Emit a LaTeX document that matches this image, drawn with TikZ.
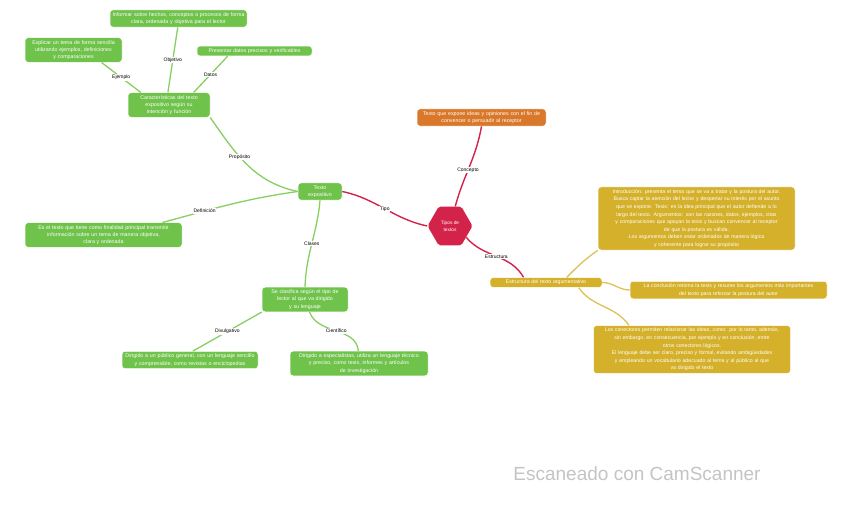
\documentclass[tikz,border=0pt]{standalone}
\usepackage{fontspec}
\setmainfont{Liberation Sans}
\usetikzlibrary{shapes.geometric, positioning}
\definecolor{mmgreen}{HTML}{6FC24A}
\definecolor{mmgreenln}{HTML}{86CF63}
\definecolor{mmred}{HTML}{D4234A}
\definecolor{mmorange}{HTML}{D9782A}
\definecolor{mmgold}{HTML}{D5B02A}
\definecolor{mmgoldln}{HTML}{DCC25A}
\definecolor{scangray}{HTML}{C4C4C4}

\tikzset{
  mapbox/.style={rounded corners=3pt, text=white, align=center, inner sep=2.5pt,
    draw=white, line width=0.5pt, font=\fontsize{5.3}{7.3}\selectfont},
  greenbox/.style={mapbox, fill=mmgreen},
  goldbox/.style={mapbox, fill=mmgold, font=\fontsize{5.2}{7.6}\selectfont},
  orangebox/.style={mapbox, fill=mmorange},
  linklabel/.style={fill=white, inner sep=0.8pt, text=black, font=\fontsize{5}{5.5}\selectfont},
  greenlink/.style={mmgreenln, line width=1.3pt},
  redlink/.style={mmred, line width=1.4pt},
  goldlink/.style={mmgoldln, line width=1.3pt}
}

\begin{document}
\begin{tikzpicture}[x=1pt, y=-1pt]

% Background
\fill[white] (0,0) rectangle (848,514);
\useasboundingbox (0,0) rectangle (848,514);

% === CENTRE: hexagon ===
\node[regular polygon, regular polygon sides=6, minimum size=45pt, inner sep=0pt,
  fill=mmred, rounded corners=2pt, text=white, align=center,
  font=\fontsize{4.8}{6.6}\selectfont] (tipos) at (450,226) {Tipos de\\ textos};

% === LEFT: green branch ===
\node[greenbox, text width=39pt] (expo) at (320,191.5) {Texto\\ expositivo};
\node[greenbox, text width=77pt] (caract) at (169,105)
  {Características del texto\\ expositivo según su\\ intención y función};
\node[greenbox, text width=92pt] (explicar) at (73.5,50)
  {Explicar un tema de forma sencilla\\ utilizando ejemplos, definiciones\\ y comparaciones};
\node[greenbox, text width=132pt] (informar) at (178.5,18.5)
  {Informar sobre hechos, conceptos o procesos de forma\\ clara, ordenada y objetiva para el lector};
\node[greenbox, text width=110pt] (precisar) at (254.5,51)
  {Presentar datos precisos y verificables};
\node[greenbox, text width=152pt] (defin) at (103.5,235)
  {Es el texto que tiene como finalidad principal transmitir\\ información sobre un tema de manera objetiva,\\ clara y ordenada};
\node[greenbox, text width=81pt] (clases) at (305,299.5)
  {Se clasifica según el tipo de\\ lector al que va dirigido\\ y su lenguaje};
\node[greenbox, text width=131pt] (divulg) at (190,360)
  {Dirigido a un público general, con un lenguaje sencillo\\ y comprensible, como revistas o enciclopedias};
\node[greenbox, text width=133pt] (cientif) at (359,363.5)
  {Dirigido a especialistas, utiliza un lenguaje técnico\\ y preciso, como tesis, informes y artículos\\ de investigación};

% green connectors
\draw[greenlink] (caract.156) -- node[linklabel] (lbejem) {Ejemplo} (explicar.-24);
\draw[greenlink] (caract.95) -- node[linklabel] (lbinfo) {Objetivo} (informar.-95);
\draw[greenlink] (caract.27) -- node[linklabel] (lbdato) {Datos} (precisar.191);
\draw[greenlink] (caract.south east) to[out=-55, in=168]
  node[linklabel, pos=0.4] (lbprop) {Propósito} (expo.west);
\draw[greenlink] (expo.west) to[out=188, in=15]
  node[linklabel, pos=0.7] (lbdef) {Definición} (defin.12);
\draw[greenlink] (expo.south) to[out=-95, in=88]
  node[linklabel] (lbclas) {Clases} (clases.north);
\draw[greenlink] (clases.south west) -- node[linklabel] (lbdiv) {Divulgativo} (divulg.72);
\draw[greenlink] (clases.-70) to[out=-70, in=95] node[linklabel] (lbcie) {Científico} (cientif.93);

% === RIGHT: red, orange and gold branch ===
\node[orangebox, text width=124pt] (argum) at (481.5,117.5)
  {Texto que expone ideas y opiniones con el fin de\\ convencer o persuadir al receptor};
\node[goldbox, text width=107pt] (estruc) at (546,282.5)
  {Estructura del texto argumentativo};
\node[goldbox, text width=192pt] (intro) at (696.5,218.5)
  {Introducción: presenta el tema que se va a tratar y la postura del autor.\\
   Busca captar la atención del lector y despertar su interés por el asunto\\
   que se expone. Tesis: es la idea principal que el autor defiende a lo\\
   largo del texto. Argumentos: son las razones, datos, ejemplos, citas\\
   y comparaciones que apoyan la tesis y buscan convencer al receptor\\
   de que la postura es válida.\\
   Los argumentos deben estar ordenados de manera lógica\\
   y coherente para lograr su propósito};
\node[goldbox, text width=192pt] (concl) at (728.5,290)
  {La conclusión retoma la tesis y resume los argumentos más importantes\\
   del texto para reforzar la postura del autor};
\node[goldbox, text width=192pt] (conect) at (692,349.5)
  {Los conectores permiten relacionar las ideas, como: por lo tanto, además,\\
   sin embargo, en consecuencia, por ejemplo y en conclusión, entre\\
   otros conectores lógicos.\\
   El lenguaje debe ser claro, preciso y formal, evitando ambigüedades\\
   y empleando un vocabulario adecuado al tema y al público al que\\
   va dirigido el texto};

% red connectors
\draw[redlink] (expo.east) to[out=-12, in=168] node[linklabel] (lbtipo) {Tipo} (tipos.west);
\draw[redlink] (tipos.75) to[out=75, in=-100]
  node[linklabel, pos=0.45] (lbconc) {Concepto} (argum.south);
\draw[redlink] (tipos.-35) to[out=-50, in=120]
  node[linklabel] (lbestr) {Estructura} (estruc.167);

% gold connectors
\draw[goldlink] (estruc.14) to[out=45, in=215] (intro.south west);
\draw[goldlink] (estruc.east) to[out=0, in=180] (concl.west);
\draw[goldlink] (estruc.-9) to[out=-55, in=125] (conect.159);

% Watermark
\node[text=scangray, font=\fontsize{19}{20}\selectfont] (scan) at (637,474) {Escaneado con CamScanner};

\end{tikzpicture}
\end{document}
